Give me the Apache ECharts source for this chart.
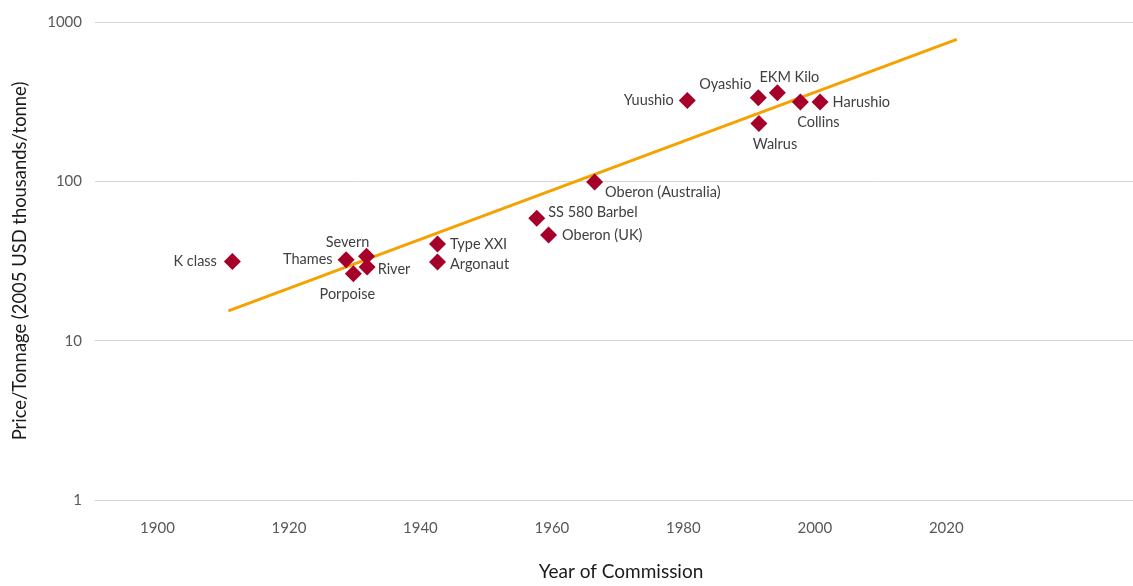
<!DOCTYPE html>
<html>
<head>
<meta charset="utf-8">
<script src="https://cdn.jsdelivr.net/npm/echarts@6/dist/echarts.min.js"></script>
<style>
html,body{margin:0;padding:0;background:#fff;}
#chart{width:1133px;height:586px;}
</style>
</head>
<body>
<div id="chart"></div>
<script>
// Data
const names = ["K class","Thames","Severn","River","Porpoise","Type XXI","Argonaut","SS 580 Barbel","Oberon (UK)","Oberon (Australia)","Yuushio","Oyashio","EKM Kilo","Walrus","Collins","Harushio"];
const years = [1911.4,1928.7,1931.8,1931.9,1929.8,1942.6,1942.6,1957.7,1959.5,1966.5,1980.6,1991.4,1994.3,1991.5,1997.8,2000.8];
const prices = [31.4,32.2,33.9,29.0,26.3,40.4,31.2,58.6,46.0,99.1,322,334.6,359.4,230.7,314.8,314.8];
const trendYears = [1910.8,2021.6];
const trendValues = [15.4,778.6];
const xTicks = [1900,1920,1940,1960,1980,2000,2020];
const yTicks = [1,10,100,1000];

// label placement per point (style only)
const labelPos = {
  "K class":{position:"left"},
  "Thames":{position:"left",offset:[2,0]},
  "Severn":{position:"top",offset:[-19,9]},
  "River":{position:"right",offset:[-5,2]},
  "Porpoise":{position:"bottom",offset:[-6,-2]},
  "Type XXI":{position:"right",offset:[-3,0]},
  "Argonaut":{position:"right",offset:[-3,2]},
  "SS 580 Barbel":{position:"right",offset:[-4,-6]},
  "Oberon (UK)":{position:"right",offset:[-2,0]},
  "Oberon (Australia)":{position:"right",offset:[-5,10]},
  "Yuushio":{position:"left",offset:[2,0]},
  "Oyashio":{position:"top",offset:[-33,10]},
  "EKM Kilo":{position:"top",offset:[12,8]},
  "Walrus":{position:"bottom",offset:[16,-2]},
  "Collins":{position:"bottom",offset:[18,-3]},
  "Harushio":{position:"right",offset:[-3,0]}
};

const FONT = "Lato";
const chart = echarts.init(document.getElementById('chart'));
const scatterData = names.map((n,i)=>({
  value:[years[i],prices[i]],
  name:n,
  label:Object.assign({show:true,formatter:n,distance:7},labelPos[n])
}));
chart.setOption({
  animation:false,
  backgroundColor:'#ffffff',
  textStyle:{fontFamily:FONT},
  grid:{left:95,right:0,top:22,bottom:78,containLabel:false},
  xAxis:{
    type:'value',min:1890.5,max:2048.4,
    name:'Year of Commission',nameLocation:'middle',nameGap:62,
    nameTextStyle:{fontSize:19,color:'#1a1a1a',fontFamily:FONT,padding:[0,0,0,14]},
    axisLine:{show:false},axisTick:{show:false},splitLine:{show:false},
    axisLabel:{customValues:xTicks,fontSize:15,color:'#595959',margin:21,fontFamily:FONT,
      formatter:v=>String(Math.round(v))}
  },
  yAxis:{
    type:'log',logBase:10,min:1,max:1000,
    name:'Price/Tonnage (2005 USD thousands/tonne)',nameLocation:'middle',nameGap:66,
    nameTextStyle:{fontSize:18.4,color:'#1a1a1a',fontFamily:FONT},
    axisLine:{show:false},axisTick:{show:false},
    splitLine:{show:true,lineStyle:{color:'#d9d3cf',width:1}},
    axisLabel:{fontSize:15,color:'#595959',margin:13,fontFamily:FONT,
      formatter:v=>String(Math.round(v))}
  },
  series:[
    {
      type:'line',
      data:trendYears.map((y,i)=>[y,trendValues[i]]),
      showSymbol:false,symbol:'none',
      lineStyle:{color:'#f5a100',width:3},
      z:1,silent:true
    },
    {
      type:'scatter',
      data:scatterData,
      symbol:'diamond',symbolSize:17,
      itemStyle:{color:'#a6002a',opacity:1},
      label:{color:'#404040',fontSize:14.5,fontFamily:FONT},
      z:2
    }
  ]
});
</script>
</body>
</html>
